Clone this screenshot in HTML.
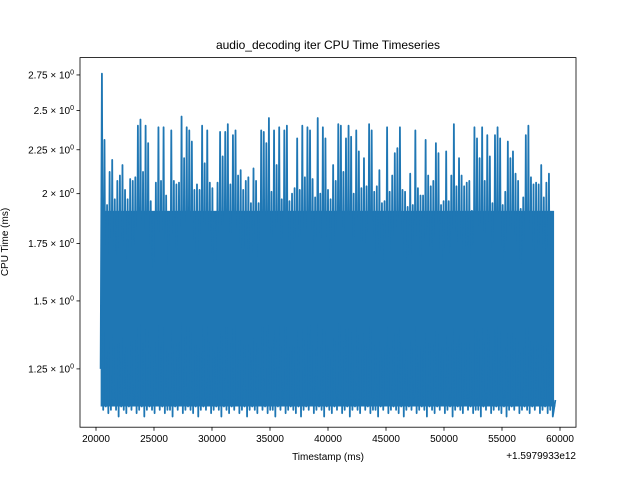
<!DOCTYPE html>
<html><head><meta charset="utf-8"><style>
body{margin:0;background:#fff;}
svg{display:block;font-family:"Liberation Sans","DejaVu Sans",sans-serif;}
</style></head><body>
<svg id="chart" width="640" height="480" viewBox="0 0 640 480">
<rect x="0" y="0" width="640" height="480" fill="#fff"/>
<text x="328" y="49" font-size="12" text-anchor="middle">audio_decoding iter CPU Time Timeseries</text>
<g id="plot"></g>
<g id="xticks"></g>
<g id="yticks"></g>
<rect x="80" y="57.6" width="496" height="369.6" fill="none" stroke="#000" stroke-width="0.8"/>
<text x="328" y="460" font-size="10" text-anchor="middle">Timestamp (ms)</text>
<text x="576" y="459" font-size="10" text-anchor="end">+1.5979933e12</text>
<text transform="translate(8,242) rotate(-90)" font-size="10" text-anchor="middle">CPU Time (ms)</text>
</svg>
<script>
const xTicks=[20000,25000,30000,35000,40000,45000,50000,55000,60000];
const yTicks=[1.25,1.5,1.75,2,2.25,2.5,2.75];
const yTickLabels=["1.25","1.5","1.75","2","2.25","2.5","2.75"];
const tStart=20400, tEnd=59600;
const startValue=1.25, endValue=1.15;
const baseValue=1.13;
const bandTopValue=1.91;
const peakValues=[2.76,2.31,1.94,2.12,2.19,1.97,2.07,2.10,2.16,2.02,1.97,2.08,2.07,2.09,2.40,2.44,2.12,2.40,2.29,1.96,1.90,2.06,2.39,2.07,2.39,1.99,1.90,2.37,2.07,2.05,2.06,2.46,2.20,2.39,2.37,2.30,2.02,2.05,2.02,2.40,2.17,2.37,2.06,2.03,1.90,2.06,2.36,2.21,2.36,2.41,2.05,2.34,2.37,2.10,2.13,2.02,2.07,2.09,1.95,2.14,2.07,1.95,2.37,2.36,2.29,2.45,2.01,2.37,2.16,2.39,1.97,2.37,2.40,1.96,2.00,2.03,2.32,2.02,2.40,2.09,2.39,2.37,2.08,1.98,2.45,
2.00,2.39,2.32,2.02,1.97,2.16,2.07,2.41,2.40,2.12,2.32,2.40,2.33,2.00,2.37,2.24,2.03,2.20,2.04,2.41,2.37,2.01,2.04,2.13,1.95,1.96,2.39,2.01,2.10,2.23,2.26,2.39,2.02,2.01,1.93,2.11,1.94,2.37,2.03,1.99,1.99,2.31,2.10,2.04,2.07,2.29,2.23,1.94,1.96,2.24,1.96,2.10,2.41,2.04,2.20,2.10,2.04,2.06,2.07,1.91,2.39,2.32,2.20,2.39,2.07,2.34,2.21,1.95,2.34,2.39,2.32,1.94,2.01,2.30,2.20,2.24,2.11,2.07,1.92,1.98,2.34,2.40,2.09,2.05,2.06,2.05,2.16,1.98,2.06,2.11,1.90];
const troughValues=[1.12,1.13,1.11,1.12,1.14,1.12,1.10,1.13,1.12,1.11,1.13,1.12,1.14,1.11,1.12,1.13,1.10,1.12,1.13,1.12,1.11,1.14,1.12,1.13,1.11,1.12,1.12,1.10,1.13,1.12,1.14,1.11,1.12,1.13,1.12,1.11,1.13,1.10,1.12,1.13,1.12,1.14,1.11,1.12,1.13,1.12,1.10,1.13,1.12,1.11,1.13,1.12,1.14,1.11,1.12,1.13,1.10,1.12,1.13,1.12,1.11,1.14,1.12,1.13,1.11,1.12,1.12,1.10,1.13,1.12,1.14,1.11,1.12,1.13,1.12,1.11,1.13,1.10,1.12,1.13,1.12,1.14,1.11,1.12,1.13,
1.12,1.10,1.13,1.12,1.11,1.13,1.12,1.14,1.11,1.12,1.13,1.10,1.12,1.13,1.12,1.11,1.14,1.12,1.13,1.11,1.12,1.12,1.10,1.13,1.12,1.14,1.11,1.12,1.13,1.12,1.11,1.13,1.10,1.12,1.13,1.12,1.14,1.11,1.12,1.13,1.12,1.10,1.13,1.12,1.11,1.13,1.12,1.14,1.11,1.12,1.13,1.10,1.12,1.13,1.12,1.11,1.14,1.12,1.13,1.11,1.12,1.12,1.10,1.13,1.12,1.14,1.11,1.12,1.13,1.12,1.11,1.13,1.10,1.12,1.13,1.12,1.14,1.11,1.12,1.13,1.12,1.11,1.13,1.12,1.14,1.11,1.12,1.13,1.11,1.12,1.10];

const X0=80,X1=576,Y0=57.6,Y1=427.2;
const xMin=18621,xMax=61379;
const yMinL=Math.log(1.069),yMaxL=Math.log(2.881);
function xs(t){return X0+(t-xMin)/(xMax-xMin)*(X1-X0);}
function ys(v){return Y1-(Math.log(v)-yMinL)/(yMaxL-yMinL)*(Y1-Y0);}
const NS="http://www.w3.org/2000/svg";
function mk(tag,attrs,parent){const e=document.createElementNS(NS,tag);for(const k in attrs)e.setAttribute(k,attrs[k]);parent.appendChild(e);return e;}

const plot=document.getElementById('plot');
const n=Math.min(peakValues.length,troughValues.length);
const dt=(tEnd-tStart)/(n+1);
let pts=[[tStart,startValue]];
for(let i=0;i<n;i++){
  pts.push([tStart+dt*(i+0.5),peakValues[i]]);
  pts.push([tStart+dt*(i+1),troughValues[i]]);
}
pts.push([tEnd,endValue]);
const ptStr=pts.map(p=>xs(p[0]).toFixed(2)+','+ys(p[1]).toFixed(2)).join(' ');
const by=ys(baseValue);
const band=mk('rect',{x:xs(tStart+dt*0.5),y:ys(bandTopValue),width:xs(tEnd-dt*0.5)-xs(tStart+dt*0.5),height:by-ys(bandTopValue),fill:'#1f77b4'},plot);


const area=mk('polygon',{points:xs(tStart).toFixed(2)+','+by.toFixed(2)+' '+ptStr+' '+xs(tEnd).toFixed(2)+','+by.toFixed(2),fill:'#1f77b4',stroke:'none'},plot);


const line=mk('polyline',{points:ptStr,fill:'none',stroke:'#1f77b4','stroke-width':'1.8','stroke-linejoin':'round'},plot);



const gx=document.getElementById('xticks');
xTicks.forEach(t=>{
  const x=xs(t);
  const tk=mk('line',{x1:x,x2:x,y1:Y1,y2:Y1+3.5,stroke:'#000','stroke-width':'0.8'},gx);
  
  
  const lb=mk('text',{x:x,y:Y1+15,'font-size':'10','text-anchor':'middle'},gx);
  lb.textContent=String(t);
  
  
});
const gy=document.getElementById('yticks');
yTicks.forEach((v,i)=>{
  const y=ys(v);
  const tk=mk('line',{x1:X0-3.5,x2:X0,y1:y,y2:y,stroke:'#000','stroke-width':'0.8'},gy);
  
  
  const lb=mk('text',{x:X0-6,y:y+3.5,'font-size':'10','text-anchor':'end'},gy);
  
  
  const a=document.createElementNS(NS,'tspan');a.textContent=yTickLabels[i]+' \u00d7 10';lb.appendChild(a);
  const b=document.createElementNS(NS,'tspan');b.setAttribute('dy','-4');b.setAttribute('font-size','7');b.textContent='0';lb.appendChild(b);
});
</script>
</body></html>
